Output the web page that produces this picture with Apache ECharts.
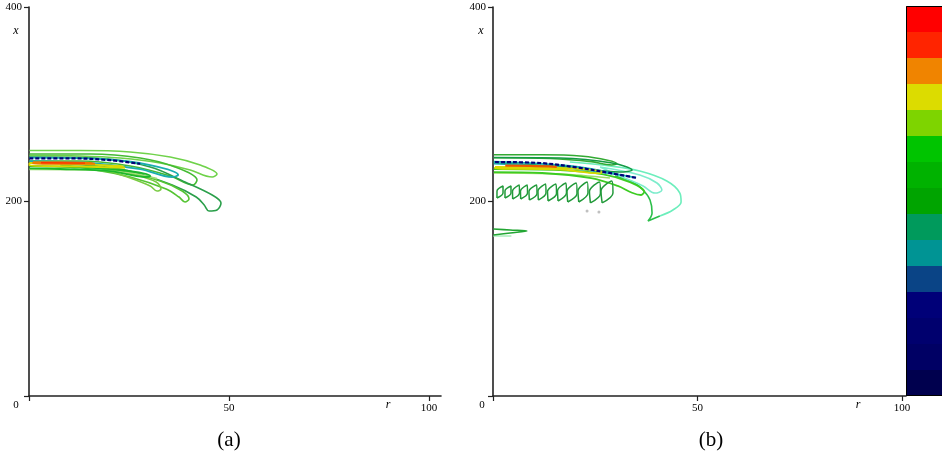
<!DOCTYPE html>
<html>
<head>
<meta charset="utf-8">
<script src="https://cdn.jsdelivr.net/npm/echarts@6/dist/echarts.min.js"></script>
<style>
  html, body { margin: 0; padding: 0; background: #fff; }
  #chart { width: 942px; height: 458px; }
</style>
</head>
<body>
<div id="chart"></div>
<script>
// axis ticks
const rTicks = [0, 50, 100];
const rLabels = [50, 100];
const xTicks = [0, 200, 400];
const xLabels = [200, 400];

// colour bar levels, bottom to top
const colorbarLevels = [1, 2, 3, 4, 5, 6, 7, 8, 9, 10, 11, 12, 13, 14, 15];
const colorbarSpan = [1, 1, 1, 1, 1, 1, 1, 1, 1, 1, 1, 1, 1, 1, 1];
const levelColors = ['#00004e', '#000064', '#00006e', '#000078', '#0a4486', '#009494', '#009a5c',
  '#00a400', '#00b200', '#00c400', '#7ed400', '#dcdc00', '#f08400', '#ff2400', '#ff0000'];

// panel (a) contours, [r, x]
const aOuter = [[0.1,252.4],[12.8,252.4],[25.3,250.9],[35.3,245.7],[42.8,237.5],[47,228.3],[45.8,225.2],[40.3,232.4],[32.8,239.6],[22.8,244.7],[12.8,246.8],[0.1,247.3]];
const aSecond = [[0.1,248.8],[15.3,248.8],[27.8,244.7],[36.5,235.5],[42,222.1],[41,217],[35.3,226.2],[25.3,236.5],[12.8,241.6],[0.1,241.6]];
const aHook = [[0.1,245.7],[17.8,244.2],[30.3,235.5],[39,220.1],[45.8,206.7],[48,198.5],[47,191.3],[45,190.2],[43.8,196.4],[41.8,204.6],[35.8,217],[24,232.4],[10.3,238.6],[0.1,239.6]];
const aMidHook = [[7.8,237.5],[22.8,231.3],[32.8,221.1],[38.3,210.8],[40,202.6],[39,199.5],[37.5,204.6],[34.3,212.8],[25.3,225.2],[15.3,233.4],[7.8,237.5]];
const aSmallHook = [[17.8,234.5],[26.5,227.3],[31.8,220.1],[33,212.8],[32,210.8],[30.3,215.9],[25.3,224.2],[17.8,234.5]];
const aTeal = [[0.1,245.2],[17.8,243.7],[30.3,237.5],[37.3,227.3],[35.8,225.2],[27.8,233.4],[15.3,239.6],[0.1,241.6]];
const aNavy = [[0.1,244.4],[10.3,244.4],[20.3,242.5],[27.8,238.8]];
const aOrange = [[1,240.4],[7.8,240.4],[15.3,239.6],[16.5,238.8],[7.8,238.8],[1,239.1],[1,240.4]];
const aRed = [[3,239.8],[14,239.5]];
const aYellow = [[0.1,239.6],[12.8,238.6],[22.8,236.5],[24,234.5],[12.8,236],[0.1,237],[0.1,239.6]];
const aLower = [[0.1,236.5],[10.3,235.5],[22.8,232.4],[30.3,226.2],[29,225.2],[20.3,231.3],[7.8,233.4],[0.1,234]];
const aLowerLight = [[0.1,233],[15,232.5],[25,229.5],[32,223.5]];

// panel (b) contours, [r, x]
const bOuter = [[0.2,248],[12,248],[22,246.5],[28,242.5],[30.3,239],[29,237.6],[24,241],[14,244.2],[0.2,245]];
const bSecond = [[0.2,245.2],[16.4,244.7],[29.1,239.6],[34,232.4],[31,230.3],[18.8,235.5],[0.2,239.6]];
const bTeal = [[0.2,241],[20,236],[33,226],[35,224.5],[30,228],[18,234.5],[0.2,239]];
const bNavy = [[0.5,240.6],[11.5,239.6],[21.3,234.5],[28.6,229.3],[35.2,224.2]];
const bOrange = [[3,236.8],[9,236.6],[15.6,235.7]];
const bYellow = [[0.5,235.5],[16.4,234.5],[26.9,230.3],[26,229],[16,233],[0.5,234],[0.5,235.5]];
const bGreen = [[0.2,233.4],[16.4,232.4],[27,228],[33.5,220],[37,210],[36.2,206.7],[34,209],[30.5,216],[24,224],[12,229.3],[0.2,230.3]];
const bLowerLight = [[0.2,229.3],[16.4,228.3],[28.6,224.2]];
const bAquaOuter = [[18.8,240.6],[28.6,236.5],[35.9,231.3],[42.5,221.1],[45.7,208.7],[46,199.5],[44,191.3],[40.8,185.1]];
const bHook = [[40.8,185.1],[37.9,179.9],[38.9,188.2],[38.4,201.5],[36.7,211.8],[34.2,220.1],[29.8,226.2]];
const bAquaInner = [[26.2,235.5],[35.9,227.3],[40.1,219],[41.3,211.8],[39.6,208.7],[36.7,215.9],[31,226.2],[26.2,235.5]];
const bCoils = [
  [[0.97,203.6],[2.45,208.7],[2.45,215.9],[0.98,210.8],[0.97,203.6]],
  [[2.93,203.6],[4.4,208.7],[4.4,215.9],[2.93,210.8],[2.93,203.6]],
  [[4.81,202.6],[6.48,208.7],[6.44,217],[4.77,210.8],[4.81,202.6]],
  [[6.77,202.6],[8.44,208.7],[8.39,217],[6.72,210.8],[6.77,202.6]],
  [[8.89,201.5],[10.76,208.2],[10.67,217],[8.8,210.3],[8.89,201.5]],
  [[11.09,201.5],[12.96,208.7],[12.87,218],[11,210.8],[11.09,201.5]],
  [[13.47,200.5],[15.53,208.2],[15.39,218],[13.33,210.3],[13.47,200.5]],
  [[15.91,200.5],[17.97,208.7],[17.83,219],[15.77,210.8],[15.91,200.5]],
  [[18.28,199.5],[20.54,208.2],[20.35,219],[18.09,210.3],[18.28,199.5]],
  [[20.97,199.5],[23.23,208.7],[23.04,220.1],[20.78,210.8],[20.97,199.5]],
  [[23.83,198.5],[26.28,208.2],[26.05,220.1],[23.59,210.3],[23.83,198.5]],
  [[26.69,198.5],[29.34,208.7],[29.05,221.1],[26.41,210.8],[26.69,198.5]]
];
const bFoot = [[0.1,171.7],[4.2,170.7],[8.3,169.7],[4.2,167.6],[0.1,165.6]];
const bFootLight = [[0.1,164.5],[4.5,164.5]];
const bDots = [[23,190.2],[25.9,189.2]];

const serif = '"Liberation Serif", "DejaVu Serif", serif';

function contour(panel, data, color, width, dashed) {
  return {
    type: 'line', xAxisIndex: panel, yAxisIndex: panel,
    data: data, smooth: 0.35, showSymbol: false, silent: true,
    lineStyle: { color: color, width: width, type: dashed ? [4, 2] : 'solid' }
  };
}

function valueAxis(grid, max, ticks, labels) {
  return {
    type: 'value', gridIndex: grid, min: 0, max: max,
    splitLine: { show: false },
    axisLine: { show: true, onZero: false, lineStyle: { color: '#222', width: 1.6 } },
    axisTick: { show: true, length: 5, customValues: ticks, lineStyle: { color: '#222', width: 1.2 } },
    axisLabel: { customValues: labels, color: '#000', fontFamily: serif, fontSize: 11, margin: 7 }
  };
}

const series = [
  contour(0, aOuter, '#6fd24a', 1.6),
  contour(0, aSecond, '#44bb33', 1.6),
  contour(0, aHook, '#2a9f4a', 1.6),
  contour(0, aMidHook, '#55c433', 1.6),
  contour(0, aSmallHook, '#7acb44', 1.6),
  contour(0, aLowerLight, '#a0dd77', 1.6),
  contour(0, aLower, '#1cb82a', 1.8),
  contour(0, aTeal, '#1aadb0', 1.8),
  contour(0, aYellow, '#d8d800', 1.8),
  contour(0, aOrange, '#ee7a00', 1.8),
  contour(0, aRed, '#ff3000', 1.4),
  contour(0, aNavy, '#00007a', 2.2, true),

  contour(1, bAquaOuter, '#6ceebc', 1.6),
  contour(1, bHook, '#2cbf4a', 1.6),
  contour(1, bAquaInner, '#7deccc', 1.6),
  contour(1, bOuter, '#33aa33', 1.6),
  contour(1, bSecond, '#139a44', 1.6),
  contour(1, bLowerLight, '#9bdd66', 1.6),
  contour(1, bGreen, '#3ccc22', 1.8),
  contour(1, bTeal, '#1aadb0', 1.8),
  contour(1, bYellow, '#d8d800', 1.8),
  contour(1, bOrange, '#ee5a00', 2.2),
  contour(1, bNavy, '#00007a', 2.2, true),
  contour(1, bFootLight, '#aaeebb', 1.6),
  contour(1, bFoot, '#22a633', 1.6)
];
bCoils.forEach(c => series.push(contour(1, c, '#229a3a', 1.5)));
series.push({
  type: 'scatter', xAxisIndex: 1, yAxisIndex: 1, data: bDots,
  symbolSize: 3, itemStyle: { color: '#b0b0b0' }, silent: true
});
series.push({
  type: 'bar', xAxisIndex: 2, yAxisIndex: 2, data: colorbarSpan,
  barCategoryGap: '0%', silent: true,
  itemStyle: { color: p => levelColors[p.dataIndex] }
});

const chart = echarts.init(document.getElementById('chart'));
chart.setOption({
  animation: false,
  backgroundColor: '#fff',
  grid: [
    { left: 29, top: 7, width: 412, height: 389 },
    { left: 493, top: 7, width: 413, height: 389 },
    { left: 906, top: 6, width: 40, height: 390 }
  ],
  xAxis: [
    valueAxis(0, 103, rTicks, rLabels),
    valueAxis(1, 101, rTicks, rLabels),
    { type: 'value', gridIndex: 2, min: 0, max: 1, show: false }
  ],
  yAxis: [
    valueAxis(0, 400, xTicks, xLabels),
    valueAxis(1, 400, xTicks, xLabels),
    { type: 'category', gridIndex: 2, data: colorbarLevels, show: false }
  ],
  graphic: [
    { type: 'rect', x: 906.5, y: 6.5, shape: { x: 0, y: 0, width: 39, height: 389 }, z: 100,
      style: { fill: 'none', stroke: '#000', lineWidth: 1 } },
    { type: 'text', x: 16, y: 405, style: { text: '0', font: '11px ' + serif, fill: '#000', align: 'center', verticalAlign: 'middle' } },
    { type: 'text', x: 16, y: 31, style: { text: 'x', font: 'italic 12px ' + serif, fill: '#000', align: 'center', verticalAlign: 'middle' } },
    { type: 'text', x: 388, y: 405, style: { text: 'r', font: 'italic 12px ' + serif, fill: '#000', align: 'center', verticalAlign: 'middle' } },
    { type: 'text', x: 482, y: 405, style: { text: '0', font: '11px ' + serif, fill: '#000', align: 'center', verticalAlign: 'middle' } },
    { type: 'text', x: 481, y: 31, style: { text: 'x', font: 'italic 12px ' + serif, fill: '#000', align: 'center', verticalAlign: 'middle' } },
    { type: 'text', x: 858, y: 405, style: { text: 'r', font: 'italic 12px ' + serif, fill: '#000', align: 'center', verticalAlign: 'middle' } },
    { type: 'text', x: 229, y: 440, style: { text: '(a)', font: '21px ' + serif, fill: '#000', align: 'center', verticalAlign: 'middle' } },
    { type: 'text', x: 711, y: 440, style: { text: '(b)', font: '21px ' + serif, fill: '#000', align: 'center', verticalAlign: 'middle' } }
  ],
  series: series
});
</script>
</body>
</html>
